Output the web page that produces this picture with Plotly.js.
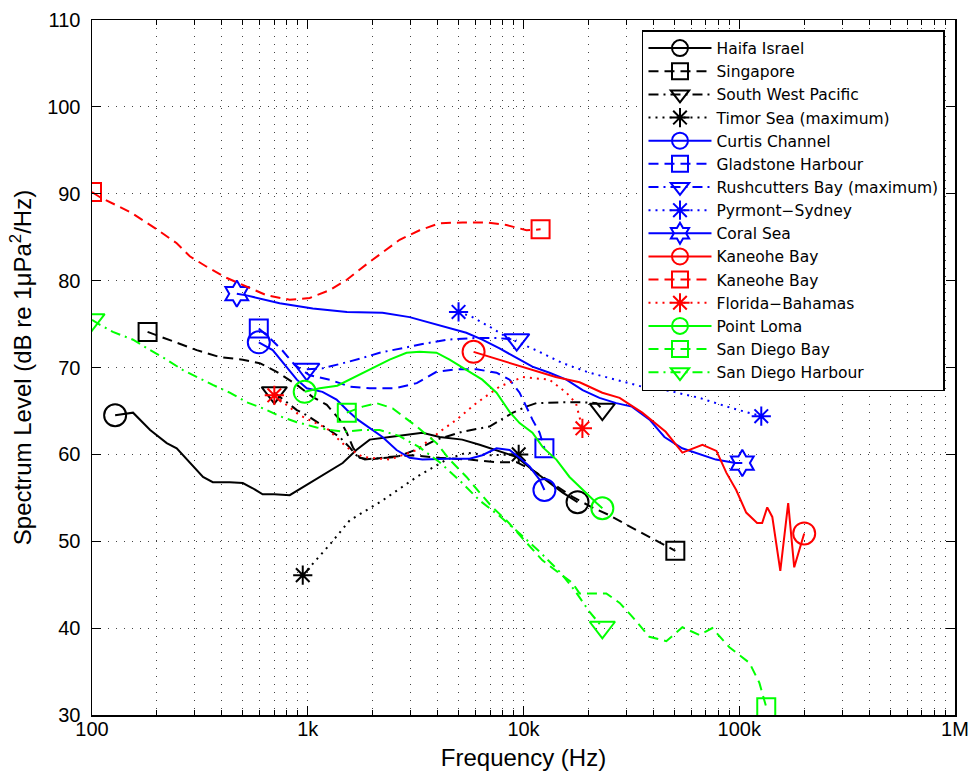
<!DOCTYPE html>
<html><head><meta charset="utf-8">
<script src="https://cdn.plot.ly/plotly-3.0.1.min.js"></script>
<style>html,body{margin:0;padding:0;background:#fff}#chart{width:974px;height:772px}</style>
</head><body><div id="chart"></div>
<script>
// ---- data (frequency in Hz, level in dB re 1uPa^2/Hz) ----
const haifaF = [128,155,186,222,247,284,327,363,435,500,556,618,700,825,990,1226,1452,1680,1937,2400,3400,4085,5200,6260,8000,9300,11000,13200,15200,17800];
const haifaL = [64.5,64.8,62.8,61.3,60.7,59.0,57.4,56.8,56.8,56.7,56.1,55.4,55.4,55.3,56.5,57.9,59.0,60.5,61.7,62.0,62.5,62.0,61.7,61.1,60.2,59.7,58.2,56.7,55.6,54.5];
const singaporeF = [181,200,247,306,391,500,599,718,890,1055,1226,1406,1517,1620,1741,1937,2330,3070,4085,5625,7500,9290,11000,13600,16900,20800,25000,30000,38400,50550];
const singaporeL = [74.1,73.7,72.8,72.0,71.2,70.9,70.5,69.5,68.0,66.6,65.7,64.0,62.5,60.8,59.6,59.4,59.7,59.9,59.6,59.4,59.1,59.1,58.2,56.7,55.1,53.9,53.0,51.9,50.5,48.9];
const swpF = [700,890,990,1226,1406,1564,1680,1840,2000,2580,3300,3950,5200,6960,8930,10300,11480,15200,18800,21800,23200];
const swpL = [67.1,65.1,64.5,63.0,62.0,60.8,59.9,59.4,59.5,59.7,60.7,61.7,62.6,63.2,64.8,65.5,65.9,66.0,66.0,65.9,65.2];
const timorF = [948,1264,1564,2222,3200,4400,5430,6960,9500];
const timorL = [46.1,49.6,52.4,54.7,57.4,59.4,60.2,59.9,60.0];
const curtisF = [593,688,783,890,990,1170,1360,1520,1705,1937,2220,2580,2966,3400,4400,5625,6440,7500,8620,9800,10670,11870,12500];
const curtisL = [72.9,72.0,70.3,68.6,67.6,67.2,66.3,65.1,64.0,63.0,62.0,60.5,59.6,59.4,59.5,59.5,59.9,60.7,60.5,59.4,58.6,57.1,55.9];
const gladstoneF = [593,666,760,870,1020,1264,1564,1937,2530,3200,3950,4900,6050,7500,8620,9590,10300,11000,11870,12500];
const gladstoneL = [74.5,73.4,72.0,70.3,69.1,68.6,67.8,67.6,67.6,68.2,69.5,69.8,69.8,69.4,68.6,67.1,65.5,64.0,62.5,60.7];
const rushcuttersF = [990,1170,1406,1741,2154,2666,3400,4400,6050,7500,9300];
const rushcuttersL = [69.8,69.9,70.4,71.0,71.7,72.2,72.7,73.2,73.4,73.4,73.2];
const pyrmontF = [5000,5800,6960,8350,11400,15200,20200,26800,35400,47500,65400,93000,126500];
const pyrmontL = [76.4,75.8,74.7,73.5,72.0,70.5,69.4,68.6,67.8,67.3,66.5,65.3,64.4];
const coralF = [469,520,741,1055,1520,2220,2966,3780,4545,5430,6440,7746,9290,11000,13200,15800,18800,22500,26900,31800,38400,45000,54400,65400,77900,96000,103300];
const coralL = [78.5,78.3,77.4,76.8,76.4,76.3,75.8,75.1,74.5,74.0,73.2,72.2,71.1,70.1,69.4,68.6,67.4,66.5,65.9,65.5,64.0,62.0,60.7,60.0,59.4,59.0,59.0];
const kaneoheSolidF = [5870,7746,11000,14100,18200,23200,27900,35500,45600,54500,67500,78400,87100,96800,107700,121000,127700,134800,142300,155000,168600,179800,200000];
const kaneoheSolidL = [71.8,70.9,69.7,68.9,68.3,67.1,66.5,64.8,62.6,60.2,61.1,60.4,57.9,55.9,53.3,52.1,52.1,53.9,52.8,46.6,54.4,47.0,50.9];
const kaneoheDashF = [100,109,150,200,247,284,340,422,522,646,825,1021,1264,1517,1876,2223,2666,3300,4085,5220,6743,8340,10330,12000];
const kaneoheDashL = [90.2,89.6,87.9,85.9,84.3,82.8,81.6,80.3,79.3,78.3,77.8,78.0,78.9,80.1,81.9,83.3,84.7,85.8,86.6,86.7,86.7,86.4,85.8,85.9];
const floridaF = [700,918,1226,1520,1800,2400,3200,4085,4900,6050,7746,9900,13200,15800,17500,18750];
const floridaL = [66.8,64.5,63.0,60.8,59.7,59.4,60.5,62.6,64.0,65.9,67.8,68.9,68.6,67.1,65.9,63.0];
const pointLomaF = [968,1136,1370,1564,1937,2396,2870,3300,3950,4545,5625,6440,7500,8620,9590,11000,12300,14200,16340,18800,21800,23200];
const pointLomaL = [67.2,67.6,67.9,68.6,69.7,70.9,71.7,71.8,71.7,70.9,69.5,68.6,67.1,64.9,63.6,62.5,60.8,59.4,57.4,55.9,54.4,53.8];
const sdBayF = [1517,1797,2084,2475,3200,3953,4545,5445,6260,7180,8340,9800,11480,12240,14690,16870,18180,20840,24200,27900,31970,38300,45900,54500,65400,75000,90000,111500,124000,133400];
const sdBayL = [64.8,65.5,65.9,65.3,63.2,61.3,59.4,57.4,55.6,53.9,52.4,50.5,48.6,47.8,46.3,45.2,44.0,44.0,44.0,42.9,41.3,39.0,38.5,40.1,39.2,40.0,37.8,36.0,33.7,30.9];
const sdHarbourF = [100,109,125,155,186,222,264,306,363,435,522,620,741,890,1100,1264,1490,1790,2154,2666,3300,4085,5056,6260,7746,9590,11870,14690,17200,20200,23200];
const sdHarbourL = [75.5,74.9,74.1,73.2,72.0,70.9,69.7,68.9,68.0,67.1,66.0,65.3,64.4,63.7,63.1,62.8,62.6,62.8,62.8,62.1,60.8,59.1,57.0,54.7,52.9,50.9,48.8,46.5,44.4,41.9,40.1];

const seriesNames = ['Haifa Israel','Singapore','South West Pacific','Timor Sea (maximum)','Curtis Channel','Gladstone Harbour','Rushcutters Bay (maximum)','Pyrmont\u2212Sydney','Coral Sea','Kaneohe Bay','Kaneohe Bay','Florida\u2212Bahamas','Point Loma','San Diego Bay','San Diego Harbour'];
const seriesF = [haifaF,singaporeF,swpF,timorF,curtisF,gladstoneF,rushcuttersF,pyrmontF,coralF,kaneoheSolidF,kaneoheDashF,floridaF,pointLomaF,sdBayF,sdHarbourF];
const seriesL = [haifaL,singaporeL,swpL,timorL,curtisL,gladstoneL,rushcuttersL,pyrmontL,coralL,kaneoheSolidL,kaneoheDashL,floridaL,pointLomaL,sdBayL,sdHarbourL];

const xTickVals = [100,1000,10000,100000,1000000];
const xTickText = ['100','1k','10k','100k','1M'];
const yTickVals = [30,40,50,60,70,80,90,100,110];

// ---- styles ----
const K='#000000', B='#0000ff', R='#ff0000', G='#00ff00';
const DASH='10px,6px', DOT='2px,5px', DASHDOT='10px,5px,2px,5px';
const styles = [
  [K,'solid','circle-open',22],[K,DASH,'square-open',18],[K,DASHDOT,'triangle-down-open',22],[K,DOT,'asterisk-open',16],
  [B,'solid','circle-open',22],[B,DASH,'square-open',18],[B,DASHDOT,'triangle-down-open',22],[B,DOT,'asterisk-open',16],[B,'solid','hexagram-open',20],
  [R,'solid','circle-open',22],[R,DASH,'square-open',18],[R,DOT,'asterisk-open',16],
  [G,'solid','circle-open',22],[G,DASH,'square-open',18],[G,DASHDOT,'triangle-down-open',22]
];

const traces = [];
seriesNames.forEach((nm,i)=>{
  const [c,d,sym,sz]=styles[i];
  const F=seriesF[i], L=seriesL[i];
  traces.push({x:F,y:L,type:'scatter',mode:'lines',showlegend:false,hoverinfo:'skip',
    line:{color:c,width:2,dash:d}});
  traces.push({x:[F[0],F[F.length-1]],y:[L[0],L[L.length-1]],type:'scatter',mode:'markers',showlegend:false,hoverinfo:'skip',
    marker:{symbol:sym,size:sz,color:c,line:{color:c,width:2}}});
});
seriesNames.forEach((nm,i)=>{
  const [c,d,sym,sz]=styles[i];
  traces.push({x:[null],y:[null],type:'scatter',mode:'lines+markers',name:nm,
    line:{color:c,width:2,dash:d},marker:{symbol:sym,size:16,color:c,line:{color:c,width:2}}});
});

const minorVals=[];
[100,1000,10000,100000].forEach(dd=>{for(let k=2;k<=9;k++) minorVals.push(dd*k);});

const gridDash='1px,7px';
const layout = {
  width:974,height:772,
  margin:{l:92,r:19,t:20,b:57},
  paper_bgcolor:'#fff',plot_bgcolor:'#fff',
  font:{family:'"Liberation Sans", Arial, sans-serif',color:'#000',size:20},
  xaxis:{type:'log',range:[2,6],tickmode:'array',tickvals:xTickVals,ticktext:xTickText,
    ticks:'inside',ticklen:9,tickwidth:1,tickcolor:'#000',showline:true,linecolor:'#000',linewidth:1.5,mirror:'ticks',
    showgrid:true,gridcolor:'#444',gridwidth:1,griddash:gridDash,zeroline:false,
    tickfont:{size:20},ticklabelstandoff:-5,
    minor:{tickmode:'array',tickvals:minorVals,ticks:'inside',ticklen:5,tickcolor:'#000',showgrid:true,gridcolor:'#444',gridwidth:1,griddash:gridDash},
    title:{text:'Frequency (Hz)',font:{size:24},standoff:10}},
  yaxis:{range:[30,110],tickmode:'array',tickvals:yTickVals,
    ticks:'inside',ticklen:9,tickwidth:1,tickcolor:'#000',showline:true,linecolor:'#000',linewidth:1.5,mirror:'ticks',
    showgrid:true,gridcolor:'#444',gridwidth:1,griddash:gridDash,zeroline:false,
    tickfont:{size:20},ticklabelstandoff:6,
    title:{text:'Spectrum Level (dB re 1\u03bcPa<sup>2</sup>/Hz)',font:{size:24},standoff:8}},
  legend:{x:0.9884,xanchor:'right',y:0.9856,yanchor:'top',bgcolor:'#fff',bordercolor:'#000',borderwidth:1.5,
    font:{family:'"DejaVu Sans", sans-serif',size:15.5,color:'#000'},tracegroupgap:0,itemwidth:63},
  showlegend:true
};
Plotly.newPlot('chart',traces,layout,{displayModeBar:false,staticPlot:true});
</script></body></html>
